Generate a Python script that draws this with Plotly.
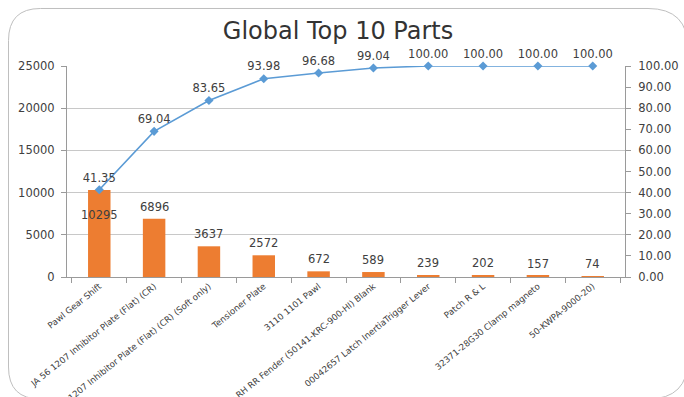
import plotly.graph_objects as go

# Part names (as shown on the category axis)
parts = [
    "Pawl Gear Shift",
    "JA 56 1207 Inhibitor Plate (Flat) (CR)",
    "56 1207 Inhibitor Plate (Flat) (CR) (Soft only)",
    "Tensioner Plate",
    "3110 1101 Pawl",
    "ay RH RR Fender (50141-KRC-900-HI) Blank",
    "00042657 Latch InertiaTrigger Lever",
    "Patch R & L",
    "32371-28G30 Clamp magneto",
    "50-KWPA-9000-20)",
]
# Quantity per part (bars, left axis)
quantity = [10295, 6896, 3637, 2572, 672, 589, 239, 202, 157, 74]
# Cumulative percentage (line, right axis)
cum_pct = [41.35, 69.04, 83.65, 93.98, 96.68, 99.04, 100.00, 100.00, 100.00, 100.00]

left_ticks = [0, 5000, 10000, 15000, 20000, 25000]
right_ticks = [0, 10, 20, 30, 40, 50, 60, 70, 80, 90, 100]

W, H = 684, 397
FONT = "DejaVu Sans"
TXT = "#404040"
BAR = "#ED7D31"
LINE = "#5B9BD5"
AXIS = "#9a9a9a"
GRID = "#c8c8c8"

fig = go.Figure()

fig.add_trace(go.Bar(
    x=parts, y=quantity, marker_color=BAR, marker_line_width=0,
    hoverinfo="x+y", yaxis="y",
))

fig.add_trace(go.Scatter(
    x=parts, y=cum_pct, yaxis="y2", mode="lines+markers+text",
    line=dict(color=LINE, width=1.6),
    marker=dict(symbol="diamond", size=7, color=LINE),
    text=[f"{v:.2f}" for v in cum_pct], textposition="top center",
    textfont=dict(family=FONT, size=11.5, color=TXT),
    cliponaxis=False,
))

# Quantity labels: the first one sits inside its bar, below the line label
for i, (p, v) in enumerate(zip(parts, quantity)):
    fig.add_annotation(
        x=p, y=v, xref="x", yref="y", text=str(v), showarrow=False,
        yanchor="middle" if i == 0 else "bottom",
        yshift=-25 if i == 0 else 3,
        font=dict(family=FONT, size=11.5, color=TXT),
    )

# Rounded chart border in page pixels
def pt(x, y):
    return f"{x / W:.5f},{1 - y / H:.5f}"

x0, y0, x1, y1, rl, rr = 8.5, 8.5, 688, 399, 32, 40
border = (
    f"M{pt(x0 + rl, y0)} L{pt(x1 - rr, y0)} Q{pt(x1, y0)} {pt(x1, y0 + rr)} "
    f"L{pt(x1, y1 - rr)} Q{pt(x1, y1)} {pt(x1 - rr, y1)} "
    f"L{pt(x0 + rl, y1)} Q{pt(x0, y1)} {pt(x0, y1 - rl)} "
    f"L{pt(x0, y0 + rl)} Q{pt(x0, y0)} {pt(x0 + rl, y0)} Z"
)
fig.add_shape(type="path", path=border, xref="paper", yref="paper",
              line=dict(color="#bfbfbf", width=1), layer="below")

fig.update_layout(
    width=W, height=H, autosize=False,
    margin=dict(l=0, r=0, t=0, b=0),
    paper_bgcolor="white", plot_bgcolor="white",
    showlegend=False, bargap=0.59,
    font=dict(family=FONT, color=TXT),
    title=dict(text="Global Top 10 Parts", x=338 / W, xanchor="center",
               y=1 - 31 / H, yanchor="middle", xref="container", yref="container",
               font=dict(family=FONT, size=24, color="#333333")),
    xaxis=dict(
        domain=[67 / W, 625 / W], type="category",
        showline=True, linecolor=AXIS, linewidth=1,
        ticks="outside", tickson="boundaries", ticklen=5, tickcolor=AXIS,
        tickangle=-39, tickfont=dict(family=FONT, size=8.7, color=TXT),
        showgrid=False, automargin=False,
    ),
    yaxis=dict(
        domain=[1 - 277 / H, 1 - 66 / H], range=[0, 25000],
        tickvals=left_ticks, ticktext=[str(t) for t in left_ticks],
        showline=True, linecolor=AXIS, linewidth=1,
        ticks="outside", ticklen=5, tickcolor=AXIS, ticklabelstandoff=4,
        showgrid=True, gridcolor=GRID, gridwidth=1, zeroline=False,
        tickfont=dict(family=FONT, size=11.5, color=TXT), automargin=False,
    ),
    yaxis2=dict(
        overlaying="y", side="right", anchor="x", range=[0, 100],
        tickvals=right_ticks, ticktext=[f"{t:.2f}" for t in right_ticks],
        showline=True, linecolor=AXIS, linewidth=1,
        ticks="outside", ticklen=5, tickcolor=AXIS, ticklabelstandoff=5,
        showgrid=False, zeroline=False,
        tickfont=dict(family=FONT, size=11.5, color=TXT), automargin=False,
    ),
)

fig.write_html("out.html")
